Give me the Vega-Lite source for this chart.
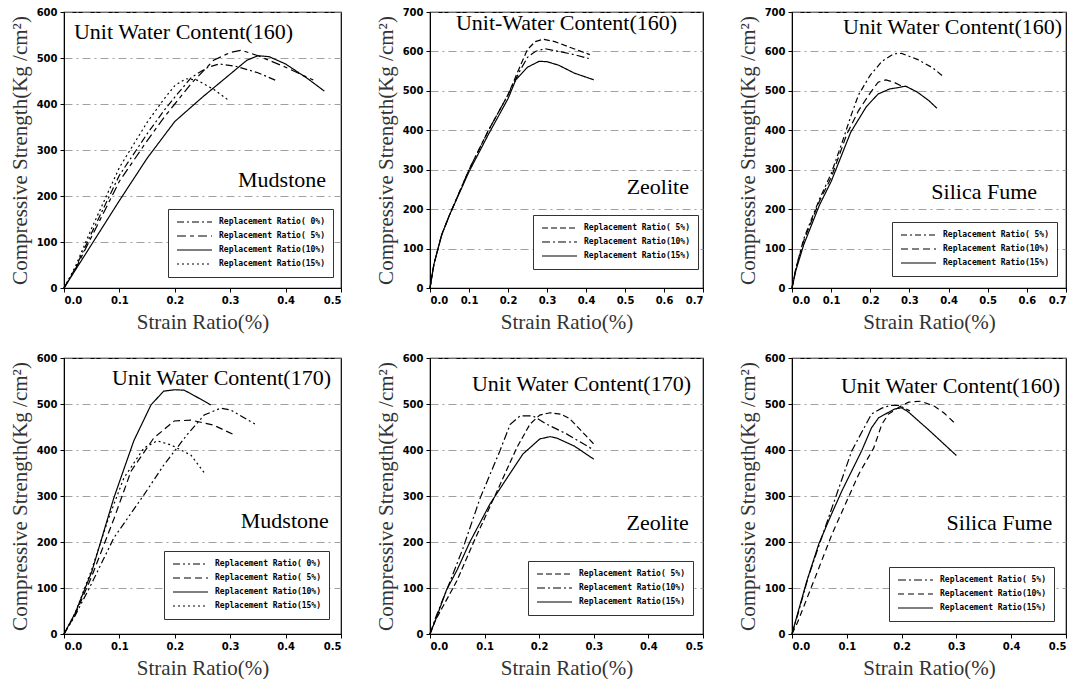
{
"$schema": "https://vega.github.io/schema/vega-lite/v6.json",
"background": "white",
"padding": {"left": 8, "top": 6, "right": 0, "bottom": 0},
"config": {
  "view": {"stroke": "black", "strokeWidth": 1.2},
  "axis": {
    "labelFont": "DejaVu Sans", "labelFontWeight": "bold", "labelFontSize": 10, "labelColor": "black", "labelOverlap": false, "tickCount": 12,
    "titleFont": "Liberation Serif", "titleFontWeight": "normal", "titleFontSize": 21, "titleColor": "#333",
    "domainColor": "black", "tickColor": "black", "tickSize": 4, "labelPadding": 3, "titlePadding": 6,
    "grid": false
  },
  "axisY": {"grid": true, "gridColor": "#888", "gridDash": [8, 4, 2, 4], "gridWidth": 0.8},
  "legend": {
    "orient": "none", "title": null,
    "labelFont": "DejaVu Sans Mono", "labelFontWeight": "bold", "labelFontSize": 8, "labelColor": "black",
    "symbolType": "stroke", "symbolSize": 1225, "symbolStrokeWidth": 1.2, "symbolStrokeColor": "black",
    "clipHeight": 10, "rowPadding": 4, "padding": 8, "labelOffset": 6,
    "strokeColor": "#333", "fillColor": "white"
  },
  "text": {"font": "Liberation Serif", "fontSize": 22, "color": "black", "baseline": "middle"},
  "line": {"color": "black", "strokeWidth": 1.2}
},
"spacing": 19,
"resolve": {"scale": {"x": "independent", "y": "independent", "strokeDash": "independent"}, "axis": {"x": "independent", "y": "independent"}, "legend": {"strokeDash": "independent"}},
"vconcat": [
 {"hconcat": [
  {"width": 277, "height": 276, "layer": [
    {"data": {"values": [
      {"r":"15%","x":0,"y":0},{"r":"15%","x":0.02,"y":45},{"r":"15%","x":0.05,"y":130},{"r":"15%","x":0.1,"y":262},{"r":"15%","x":0.15,"y":360},{"r":"15%","x":0.18,"y":410},{"r":"15%","x":0.2,"y":440},{"r":"15%","x":0.22,"y":455},{"r":"15%","x":0.24,"y":452},{"r":"15%","x":0.27,"y":432},{"r":"15%","x":0.295,"y":410},
      {"r":"0%","x":0,"y":0},{"r":"0%","x":0.02,"y":42},{"r":"0%","x":0.05,"y":120},{"r":"0%","x":0.1,"y":245},{"r":"0%","x":0.15,"y":335},{"r":"0%","x":0.18,"y":385},{"r":"0%","x":0.2,"y":415},{"r":"0%","x":0.23,"y":458},{"r":"0%","x":0.26,"y":480},{"r":"0%","x":0.28,"y":487},{"r":"0%","x":0.31,"y":482},{"r":"0%","x":0.35,"y":468},{"r":"0%","x":0.385,"y":450},
      {"r":"5%","x":0,"y":0},{"r":"5%","x":0.02,"y":40},{"r":"5%","x":0.05,"y":112},{"r":"5%","x":0.1,"y":232},{"r":"5%","x":0.15,"y":320},{"r":"5%","x":0.18,"y":370},{"r":"5%","x":0.2,"y":400},{"r":"5%","x":0.23,"y":445},{"r":"5%","x":0.27,"y":495},{"r":"5%","x":0.3,"y":512},{"r":"5%","x":0.32,"y":517},{"r":"5%","x":0.35,"y":505},{"r":"5%","x":0.4,"y":480},{"r":"5%","x":0.45,"y":452},
      {"r":"10%","x":0,"y":0},{"r":"10%","x":0.02,"y":38},{"r":"10%","x":0.05,"y":95},{"r":"10%","x":0.1,"y":190},{"r":"10%","x":0.15,"y":282},{"r":"10%","x":0.2,"y":362},{"r":"10%","x":0.25,"y":415},{"r":"10%","x":0.3,"y":465},{"r":"10%","x":0.33,"y":495},{"r":"10%","x":0.35,"y":505},{"r":"10%","x":0.37,"y":503},{"r":"10%","x":0.4,"y":487},{"r":"10%","x":0.44,"y":455},{"r":"10%","x":0.47,"y":428}
    ]},
     "mark": "line",
     "encoding": {
      "x": {"field": "x", "type": "quantitative", "scale": {"domain": [0, 0.5]}, "axis": {"values": [0,0.1,0.2,0.3,0.4,0.5], "format": ".1f", "title": "Strain Ratio(%)"}},
      "y": {"field": "y", "type": "quantitative", "scale": {"domain": [0, 600]}, "axis": {"values": [0,100,200,300,400,500,600], "title": "Compressive Strength(Kg /cm²)"}},
      "strokeDash": {"field": "r", "type": "nominal", "scale": {"domain": ["0%","5%","10%","15%"], "range": [[7,3,2,3],[9,4,4,4],[1,0],[2,3]]}, "legend": {"legendX": 104, "legendY": 197, "labelExpr": "'Replacement Ratio(' + (length(datum.label) < 3 ? ' ' : '') + datum.label + ')'"}}
     }},
    {"data": {"values": [{}]}, "mark": {"type": "text", "align": "left"}, "encoding": {"x": {"datum": 0.018, "type": "quantitative"}, "y": {"datum": 557, "type": "quantitative"}, "text": {"value": "Unit Water Content(160)"}}},
    {"data": {"values": [{}]}, "mark": {"type": "text", "align": "right"}, "encoding": {"x": {"datum": 0.473, "type": "quantitative"}, "y": {"datum": 235, "type": "quantitative"}, "text": {"value": "Mudstone"}}}
  ]},
  {"width": 273, "height": 276, "layer": [
    {"data": {"values": [
      {"r":"5%","x":0,"y":0},{"r":"5%","x":0.01,"y":60},{"r":"5%","x":0.03,"y":135},{"r":"5%","x":0.05,"y":185},{"r":"5%","x":0.1,"y":300},{"r":"5%","x":0.15,"y":400},{"r":"5%","x":0.2,"y":490},{"r":"5%","x":0.23,"y":560},{"r":"5%","x":0.25,"y":605},{"r":"5%","x":0.27,"y":625},{"r":"5%","x":0.29,"y":631},{"r":"5%","x":0.32,"y":625},{"r":"5%","x":0.36,"y":610},{"r":"5%","x":0.41,"y":592},
      {"r":"10%","x":0,"y":0},{"r":"10%","x":0.01,"y":60},{"r":"10%","x":0.03,"y":135},{"r":"10%","x":0.05,"y":185},{"r":"10%","x":0.1,"y":300},{"r":"10%","x":0.15,"y":400},{"r":"10%","x":0.2,"y":490},{"r":"10%","x":0.23,"y":550},{"r":"10%","x":0.25,"y":585},{"r":"10%","x":0.27,"y":600},{"r":"10%","x":0.295,"y":607},{"r":"10%","x":0.33,"y":600},{"r":"10%","x":0.37,"y":592},{"r":"10%","x":0.407,"y":582},
      {"r":"15%","x":0,"y":0},{"r":"15%","x":0.01,"y":60},{"r":"15%","x":0.03,"y":135},{"r":"15%","x":0.05,"y":185},{"r":"15%","x":0.1,"y":295},{"r":"15%","x":0.15,"y":390},{"r":"15%","x":0.2,"y":480},{"r":"15%","x":0.22,"y":528},{"r":"15%","x":0.25,"y":560},{"r":"15%","x":0.28,"y":575},{"r":"15%","x":0.3,"y":574},{"r":"15%","x":0.33,"y":565},{"r":"15%","x":0.37,"y":545},{"r":"15%","x":0.42,"y":528}
    ]},
     "mark": "line",
     "encoding": {
      "x": {"field": "x", "type": "quantitative", "scale": {"domain": [0, 0.7]}, "axis": {"values": [0,0.1,0.2,0.3,0.4,0.5,0.6,0.7], "format": ".1f", "title": "Strain Ratio(%)"}},
      "y": {"field": "y", "type": "quantitative", "scale": {"domain": [0, 700]}, "axis": {"values": [0,100,200,300,400,500,600,700], "title": "Compressive Strength(Kg /cm²)"}},
      "strokeDash": {"field": "r", "type": "nominal", "scale": {"domain": ["5%","10%","15%"], "range": [[6,3],[8,3,2,3],[1,0]]}, "legend": {"legendX": 103, "legendY": 203, "labelExpr": "'Replacement Ratio(' + (length(datum.label) < 3 ? ' ' : '') + datum.label + ')'"}}
     }},
    {"data": {"values": [{}]}, "mark": {"type": "text", "align": "center"}, "encoding": {"x": {"datum": 0.35, "type": "quantitative"}, "y": {"datum": 672, "type": "quantitative"}, "text": {"value": "Unit-Water Content(160)"}}},
    {"data": {"values": [{}]}, "mark": {"type": "text", "align": "right"}, "encoding": {"x": {"datum": 0.664, "type": "quantitative"}, "y": {"datum": 256, "type": "quantitative"}, "text": {"value": "Zeolite"}}}
  ]},
  {"width": 274, "height": 276, "layer": [
    {"data": {"values": [
      {"r":"5%","x":0,"y":0},{"r":"5%","x":0.01,"y":50},{"r":"5%","x":0.03,"y":125},{"r":"5%","x":0.07,"y":225},{"r":"5%","x":0.1,"y":290},{"r":"5%","x":0.13,"y":375},{"r":"5%","x":0.15,"y":435},{"r":"5%","x":0.17,"y":490},{"r":"5%","x":0.2,"y":540},{"r":"5%","x":0.23,"y":575},{"r":"5%","x":0.26,"y":594},{"r":"5%","x":0.28,"y":595},{"r":"5%","x":0.32,"y":580},{"r":"5%","x":0.36,"y":558},{"r":"5%","x":0.388,"y":535},
      {"r":"10%","x":0,"y":0},{"r":"10%","x":0.01,"y":50},{"r":"10%","x":0.03,"y":120},{"r":"10%","x":0.07,"y":220},{"r":"10%","x":0.1,"y":280},{"r":"10%","x":0.14,"y":390},{"r":"10%","x":0.17,"y":450},{"r":"10%","x":0.2,"y":495},{"r":"10%","x":0.22,"y":522},{"r":"10%","x":0.24,"y":528},{"r":"10%","x":0.26,"y":522},{"r":"10%","x":0.28,"y":512},
      {"r":"15%","x":0,"y":0},{"r":"15%","x":0.01,"y":45},{"r":"15%","x":0.03,"y":110},{"r":"15%","x":0.07,"y":210},{"r":"15%","x":0.1,"y":270},{"r":"15%","x":0.15,"y":395},{"r":"15%","x":0.19,"y":460},{"r":"15%","x":0.22,"y":492},{"r":"15%","x":0.25,"y":505},{"r":"15%","x":0.27,"y":508},{"r":"15%","x":0.29,"y":512},{"r":"15%","x":0.32,"y":497},{"r":"15%","x":0.35,"y":475},{"r":"15%","x":0.37,"y":456}
    ]},
     "mark": "line",
     "encoding": {
      "x": {"field": "x", "type": "quantitative", "scale": {"domain": [0, 0.7]}, "axis": {"values": [0,0.1,0.2,0.3,0.4,0.5,0.6,0.7], "format": ".1f", "title": "Strain Ratio(%)"}},
      "y": {"field": "y", "type": "quantitative", "scale": {"domain": [0, 700]}, "axis": {"values": [0,100,200,300,400,500,600,700], "title": "Compressive Strength(Kg /cm²)"}},
      "strokeDash": {"field": "r", "type": "nominal", "scale": {"domain": ["5%","10%","15%"], "range": [[6,3,2,3],[7,4],[1,0]]}, "legend": {"legendX": 100, "legendY": 210, "labelExpr": "'Replacement Ratio(' + (length(datum.label) < 3 ? ' ' : '') + datum.label + ')'"}}
     }},
    {"data": {"values": [{}]}, "mark": {"type": "text", "align": "right"}, "encoding": {"x": {"datum": 0.69, "type": "quantitative"}, "y": {"datum": 662, "type": "quantitative"}, "text": {"value": "Unit Water Content(160)"}}},
    {"data": {"values": [{}]}, "mark": {"type": "text", "align": "right"}, "encoding": {"x": {"datum": 0.626, "type": "quantitative"}, "y": {"datum": 243, "type": "quantitative"}, "text": {"value": "Silica Fume"}}}
  ]}
 ], "spacing": 89, "bounds": "flush",
 "resolve": {"scale": {"x": "independent", "y": "independent", "strokeDash": "independent"}, "axis": {"x": "independent", "y": "independent"}, "legend": {"strokeDash": "independent"}}},
 {"hconcat": [
  {"width": 277, "height": 276, "layer": [
    {"data": {"values": [
      {"r":"10%","x":0,"y":0},{"r":"10%","x":0.02,"y":45},{"r":"10%","x":0.05,"y":135},{"r":"10%","x":0.09,"y":296},{"r":"10%","x":0.126,"y":420},{"r":"10%","x":0.157,"y":498},{"r":"10%","x":0.18,"y":528},{"r":"10%","x":0.2,"y":531},{"r":"10%","x":0.217,"y":530},{"r":"10%","x":0.24,"y":515},{"r":"10%","x":0.265,"y":498},
      {"r":"0%","x":0,"y":0},{"r":"0%","x":0.02,"y":40},{"r":"0%","x":0.05,"y":110},{"r":"0%","x":0.09,"y":209},{"r":"0%","x":0.144,"y":302},{"r":"0%","x":0.18,"y":367},{"r":"0%","x":0.222,"y":433},{"r":"0%","x":0.253,"y":476},{"r":"0%","x":0.283,"y":491},{"r":"0%","x":0.301,"y":487},{"r":"0%","x":0.348,"y":454},
      {"r":"5%","x":0,"y":0},{"r":"5%","x":0.02,"y":42},{"r":"5%","x":0.05,"y":125},{"r":"5%","x":0.09,"y":250},{"r":"5%","x":0.121,"y":354},{"r":"5%","x":0.162,"y":426},{"r":"5%","x":0.199,"y":463},{"r":"5%","x":0.229,"y":465},{"r":"5%","x":0.27,"y":454},{"r":"5%","x":0.307,"y":433},
      {"r":"15%","x":0,"y":0},{"r":"15%","x":0.02,"y":45},{"r":"15%","x":0.05,"y":140},{"r":"15%","x":0.08,"y":250},{"r":"15%","x":0.108,"y":339},{"r":"15%","x":0.144,"y":404},{"r":"15%","x":0.168,"y":420},{"r":"15%","x":0.193,"y":411},{"r":"15%","x":0.229,"y":389},{"r":"15%","x":0.256,"y":346}
    ]},
     "mark": "line",
     "encoding": {
      "x": {"field": "x", "type": "quantitative", "scale": {"domain": [0, 0.5]}, "axis": {"values": [0,0.1,0.2,0.3,0.4,0.5], "format": ".1f", "title": "Strain Ratio(%)"}},
      "y": {"field": "y", "type": "quantitative", "scale": {"domain": [0, 600]}, "axis": {"values": [0,100,200,300,400,500,600], "title": "Compressive Strength(Kg /cm²)"}},
      "strokeDash": {"field": "r", "type": "nominal", "scale": {"domain": ["0%","5%","10%","15%"], "range": [[7,3,2,3,2,3],[7,4],[1,0],[2,3]]}, "legend": {"legendX": 100, "legendY": 193, "labelExpr": "'Replacement Ratio(' + (length(datum.label) < 3 ? ' ' : '') + datum.label + ')'"}}
     }},
    {"data": {"values": [{}]}, "mark": {"type": "text", "align": "right"}, "encoding": {"x": {"datum": 0.482, "type": "quantitative"}, "y": {"datum": 557, "type": "quantitative"}, "text": {"value": "Unit Water Content(170)"}}},
    {"data": {"values": [{}]}, "mark": {"type": "text", "align": "right"}, "encoding": {"x": {"datum": 0.478, "type": "quantitative"}, "y": {"datum": 246, "type": "quantitative"}, "text": {"value": "Mudstone"}}}
  ]},
  {"width": 273, "height": 276, "layer": [
    {"data": {"values": [
      {"r":"10%","x":0,"y":0},{"r":"10%","x":0.01,"y":35},{"r":"10%","x":0.037,"y":115},{"r":"10%","x":0.06,"y":185},{"r":"10%","x":0.092,"y":296},{"r":"10%","x":0.128,"y":398},{"r":"10%","x":0.147,"y":456},{"r":"10%","x":0.165,"y":474},{"r":"10%","x":0.189,"y":474},{"r":"10%","x":0.214,"y":456},{"r":"10%","x":0.25,"y":435},{"r":"10%","x":0.3,"y":400},
      {"r":"5%","x":0,"y":0},{"r":"5%","x":0.01,"y":30},{"r":"5%","x":0.049,"y":115},{"r":"5%","x":0.08,"y":200},{"r":"5%","x":0.123,"y":311},{"r":"5%","x":0.159,"y":405},{"r":"5%","x":0.183,"y":456},{"r":"5%","x":0.201,"y":476},{"r":"5%","x":0.22,"y":481},{"r":"5%","x":0.24,"y":478},{"r":"5%","x":0.256,"y":468},{"r":"5%","x":0.3,"y":413},
      {"r":"15%","x":0,"y":0},{"r":"15%","x":0.01,"y":30},{"r":"15%","x":0.03,"y":95},{"r":"15%","x":0.05,"y":140},{"r":"15%","x":0.073,"y":200},{"r":"15%","x":0.11,"y":283},{"r":"15%","x":0.141,"y":339},{"r":"15%","x":0.17,"y":391},{"r":"15%","x":0.201,"y":424},{"r":"15%","x":0.22,"y":429},{"r":"15%","x":0.232,"y":426},{"r":"15%","x":0.265,"y":408},{"r":"15%","x":0.3,"y":380}
    ]},
     "mark": "line",
     "encoding": {
      "x": {"field": "x", "type": "quantitative", "scale": {"domain": [0, 0.5]}, "axis": {"values": [0,0.1,0.2,0.3,0.4,0.5], "format": ".1f", "title": "Strain Ratio(%)"}},
      "y": {"field": "y", "type": "quantitative", "scale": {"domain": [0, 600]}, "axis": {"values": [0,100,200,300,400,500,600], "title": "Compressive Strength(Kg /cm²)"}},
      "strokeDash": {"field": "r", "type": "nominal", "scale": {"domain": ["5%","10%","15%"], "range": [[6,3],[8,3,2,3],[1,0]]}, "legend": {"legendX": 98, "legendY": 203, "labelExpr": "'Replacement Ratio(' + (length(datum.label) < 3 ? ' ' : '') + datum.label + ')'"}}
     }},
    {"data": {"values": [{}]}, "mark": {"type": "text", "align": "right"}, "encoding": {"x": {"datum": 0.478, "type": "quantitative"}, "y": {"datum": 543, "type": "quantitative"}, "text": {"value": "Unit Water Content(170)"}}},
    {"data": {"values": [{}]}, "mark": {"type": "text", "align": "right"}, "encoding": {"x": {"datum": 0.474, "type": "quantitative"}, "y": {"datum": 241, "type": "quantitative"}, "text": {"value": "Zeolite"}}}
  ]},
  {"width": 274, "height": 276, "layer": [
    {"data": {"values": [
      {"r":"15%","x":0,"y":0},{"r":"15%","x":0.005,"y":22},{"r":"15%","x":0.027,"y":115},{"r":"15%","x":0.049,"y":196},{"r":"15%","x":0.07,"y":255},{"r":"15%","x":0.091,"y":311},{"r":"15%","x":0.127,"y":398},{"r":"15%","x":0.145,"y":448},{"r":"15%","x":0.158,"y":470},{"r":"15%","x":0.187,"y":489},{"r":"15%","x":0.2,"y":492},{"r":"15%","x":0.213,"y":482},{"r":"15%","x":0.25,"y":443},{"r":"15%","x":0.3,"y":388},
      {"r":"5%","x":0,"y":0},{"r":"5%","x":0.01,"y":40},{"r":"5%","x":0.03,"y":125},{"r":"5%","x":0.06,"y":230},{"r":"5%","x":0.109,"y":398},{"r":"5%","x":0.145,"y":478},{"r":"5%","x":0.164,"y":491},{"r":"5%","x":0.18,"y":497},{"r":"5%","x":0.195,"y":497},{"r":"5%","x":0.215,"y":485},
      {"r":"10%","x":0,"y":0},{"r":"10%","x":0.01,"y":25},{"r":"10%","x":0.042,"y":122},{"r":"10%","x":0.073,"y":217},{"r":"10%","x":0.122,"y":348},{"r":"10%","x":0.149,"y":404},{"r":"10%","x":0.164,"y":456},{"r":"10%","x":0.176,"y":478},{"r":"10%","x":0.195,"y":493},{"r":"10%","x":0.213,"y":504},{"r":"10%","x":0.235,"y":506},{"r":"10%","x":0.26,"y":495},{"r":"10%","x":0.278,"y":480},{"r":"10%","x":0.3,"y":455}
    ]},
     "mark": "line",
     "encoding": {
      "x": {"field": "x", "type": "quantitative", "scale": {"domain": [0, 0.5]}, "axis": {"values": [0,0.1,0.2,0.3,0.4,0.5], "format": ".1f", "title": "Strain Ratio(%)"}},
      "y": {"field": "y", "type": "quantitative", "scale": {"domain": [0, 600]}, "axis": {"values": [0,100,200,300,400,500,600], "title": "Compressive Strength(Kg /cm²)"}},
      "strokeDash": {"field": "r", "type": "nominal", "scale": {"domain": ["5%","10%","15%"], "range": [[8,3,2,3],[6,4],[1,0]]}, "legend": {"legendX": 97, "legendY": 209, "labelExpr": "'Replacement Ratio(' + (length(datum.label) < 3 ? ' ' : '') + datum.label + ')'"}}
     }},
    {"data": {"values": [{}]}, "mark": {"type": "text", "align": "right"}, "encoding": {"x": {"datum": 0.489, "type": "quantitative"}, "y": {"datum": 539, "type": "quantitative"}, "text": {"value": "Unit Water Content(160)"}}},
    {"data": {"values": [{}]}, "mark": {"type": "text", "align": "right"}, "encoding": {"x": {"datum": 0.475, "type": "quantitative"}, "y": {"datum": 241, "type": "quantitative"}, "text": {"value": "Silica Fume"}}}
  ]}
 ], "spacing": 89, "bounds": "flush",
 "resolve": {"scale": {"x": "independent", "y": "independent", "strokeDash": "independent"}, "axis": {"x": "independent", "y": "independent"}, "legend": {"strokeDash": "independent"}}}
]
}
